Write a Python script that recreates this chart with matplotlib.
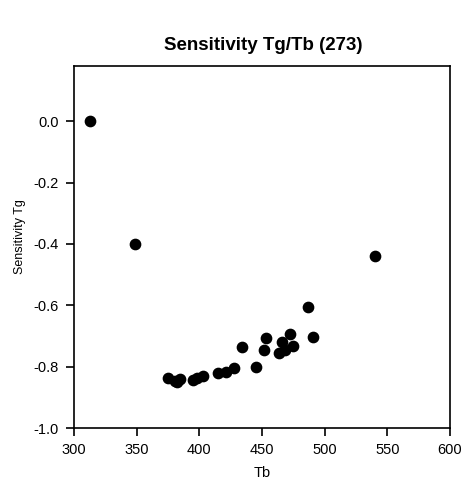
import matplotlib
matplotlib.use("Agg")
import matplotlib.pyplot as plt

plt.rcParams['font.family'] = ['Liberation Sans', 'DejaVu Sans']

tb = [312.5, 349, 540, 486.5, 490.5, 472.5, 453, 451.5, 434, 445, 466, 463.5,
      468.5, 475, 427.5, 421, 415, 403, 398, 395, 384.5, 380.5, 375, 382]
sens = [0.0, -0.40, -0.44, -0.606, -0.703, -0.694, -0.707, -0.746, -0.736, -0.80,
        -0.72, -0.756, -0.746, -0.733, -0.804, -0.817, -0.82, -0.83, -0.837,
        -0.844, -0.84, -0.847, -0.837, -0.85]

xticks = [300, 350, 400, 450, 500, 550, 600]
yticks = [0.0, -0.2, -0.4, -0.6, -0.8, -1.0]

fig = plt.figure(figsize=(4.65, 4.79), dpi=100)
ax = fig.add_axes([74/465, 51/479, 376/465, 362/479])
ax.scatter(tb, sens, s=55, color='black', zorder=3)
ax.set_xlim(300, 600)
ax.set_ylim(-1.0, 0.18)
ax.set_xticks(xticks)
ax.set_xticklabels([str(t) for t in xticks])
ax.set_yticks(yticks)
ax.set_yticklabels([f"{t:.1f}" for t in yticks])
ax.tick_params(direction='out', length=6, width=1.2, labelsize=10.5, pad=5)
for sp in ax.spines.values():
    sp.set_linewidth(1.2)
ax.set_xlabel("Tb", fontsize=10.5)
ax.xaxis.set_label_coords(0.5, -0.106)
ax.set_ylabel("Sensitivity Tg", fontsize=9)
ax.yaxis.set_label_coords(-0.128, 0.53)
fig.text(263/465, 1 - 46/479, "Sensitivity Tg/Tb (273)", fontsize=13.5,
         fontweight='bold', ha='center', va='center')
fig.savefig("out.png", dpi=100)
